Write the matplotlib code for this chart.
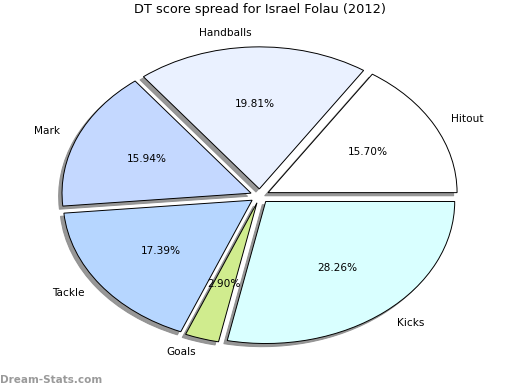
import matplotlib
matplotlib.use("Agg")
import matplotlib.pyplot as plt

labels = ["Hitout", "Handballs", "Mark", "Tackle", "Goals", "Kicks"]
values = [15.70, 19.81, 15.94, 17.39, 2.90, 28.26]
colors = ["#FFFFFF", "#EAF1FF", "#C4D8FF", "#B6D6FF", "#D0EC8E", "#D9FFFF"]
explode = [0.05] * len(values)
title = "DT score spread for Israel Folau (2012)"
watermark = "Dream-Stats.com"

fig = plt.figure(figsize=(5.2, 3.9), dpi=100)
ax = fig.add_axes([0, 0, 1, 1])
wedges, texts, autotexts = ax.pie(
    values, labels=labels, colors=colors, explode=explode,
    autopct="%1.2f%%", startangle=0, counterclock=True,
    labeldistance=1.1, pctdistance=0.6,
    wedgeprops=dict(edgecolor="black", linewidth=0.7),
    textprops=dict(fontsize=7.6, color="black"),
    shadow=dict(ox=-0.013, oy=-0.016, facecolor="#8c8c8c", edgecolor="#8c8c8c", alpha=0.9),
)
ax.set_aspect("auto")
ax.set_xlim(-1.374, 1.377)
ax.set_ylim(-1.366, 1.380)
ax.axis("off")

fig.text(0.5, 0.975, title, ha="center", va="center", fontsize=9.3)
fig.text(0.0, 0.025, watermark, ha="left", va="center", fontsize=7.5,
         color="#9a9a9a", fontweight="bold")

fig.savefig("out.png", dpi=100)
